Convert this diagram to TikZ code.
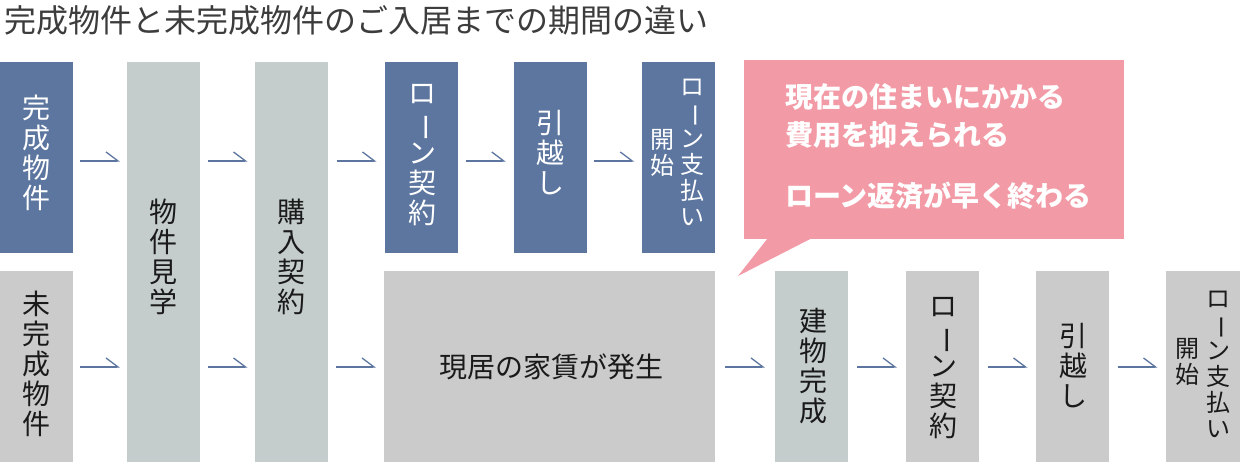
\documentclass[tikz,border=0pt]{standalone}
\usepackage{fontspec}
\usepackage{graphicx}
\newfontfamily\jp{Noto Sans CJK JP}
\usetikzlibrary{arrows.meta,calc}
\definecolor{cblue}{HTML}{5C76A0}
\definecolor{cgreen}{HTML}{C4CDCB}
\definecolor{cgray}{HTML}{CBCBCB}
\definecolor{cpink}{HTML}{F29BA6}
\definecolor{ctitle}{HTML}{3C3C3C}
\definecolor{cink}{HTML}{1A1A1A}
\newcommand{\vbar}{\rotatebox[origin=c]{-90}{ー}}
\newcommand{\flowarrow}[3]{\draw[flow] ($($(#1.east|-#3)!0.5!(#2.west|-#3)$)+(-20,0)$) -- ($($(#1.east|-#3)!0.5!(#2.west|-#3)$)+(20,0)$);}
\begin{document}
\begin{tikzpicture}[x=1pt,y=-1pt,
  boxbase/.style={rectangle, inner sep=0pt, draw=none, minimum width=73pt},
  tallbox/.style={boxbase, minimum height=400pt, fill=cgreen},
  rowbox/.style={boxbase, minimum height=191pt},
  vtext/.style={inner sep=0pt, align=center, font=\jp\fontsize{28}{30}\selectfont},
  vsmall/.style={inner sep=0pt, align=center, font=\jp\fontsize{24}{26}\selectfont},
  calltext/.style={inner sep=0pt, anchor=west, text=white, font=\jp\bfseries\fontsize{28}{28}\selectfont},
  flow/.style={draw=cblue, line width=1.3pt, -{Straight Barb[harpoon, length=12pt, width=18pt]}}]
\useasboundingbox (0,0) rectangle (1240,462);
\fill[white] (0,0) rectangle (1240,462);
\coordinate (yt) at (0,161);
\coordinate (yb) at (0,367);

% title
\node[inner sep=0pt, anchor=west, text=ctitle, font=\jp\fontsize{32}{32}\selectfont] (title) at (4,20) {完成物件と未完成物件のご入居までの期間の違い};

% top row
\node[rowbox, fill=cblue] (a1) at (36.5,157.5) {};
\node[vtext, text=white] (a1t) at (37,153) {完\\成\\物\\件};
\node[rowbox, fill=cblue] (a2) at (421.5,157.5) {};
\node[vtext, text=white] (a2t) at (422,155) {ロ\\\vbar\\ン\\契\\約};
\node[rowbox, fill=cblue] (a3) at (550,157.5) {};
\node[vtext, text=white] (a3t) at (550,152.5) {引\\越\\し};
\node[rowbox, fill=cblue] (a4) at (678.5,157.5) {};
\node[vsmall, text=white] (a4r) at (692,152) {ロ\\\vbar\\ン\\支\\払\\い};
\node[vsmall, text=white] (a4l) at (662,152.5) {開\\始};

% tall boxes
\node[tallbox] (k) at (163.5,262) {};
\node[vtext, text=cink] (kt) at (163.5,257) {物\\件\\見\\学};
\node[tallbox] (p) at (291.5,262) {};
\node[vtext, text=cink] (pt) at (291.5,257) {購\\入\\契\\約};

% bottom row
\node[rowbox, fill=cgray] (b1) at (36.5,366.5) {};
\node[vtext, text=cink] (b1t) at (37,363.5) {未\\完\\成\\物\\件};
\node[rowbox, fill=cgray, minimum width=331pt] (r) at (549.5,366.5) {};
\node[inner sep=0pt, text=cink, font=\jp\fontsize{28}{28}\selectfont] (rt) at (551,367) {現居の家賃が発生};
\node[rowbox, fill=cgreen] (c1) at (811.5,366.5) {};
\node[vtext, text=cink] (c1t) at (813,366.5) {建\\物\\完\\成};
\node[rowbox, fill=cgray] (c2) at (942.5,366.5) {};
\node[vtext, text=cink] (c2t) at (943,368) {ロ\\\vbar\\ン\\契\\約};
\node[rowbox, fill=cgray] (c3) at (1072.5,366.5) {};
\node[vtext, text=cink] (c3t) at (1073,366) {引\\越\\し};
\node[rowbox, fill=cgray, minimum width=74pt] (c4) at (1203,366.5) {};
\node[vsmall, text=cink] (c4r) at (1218,364) {ロ\\\vbar\\ン\\支\\払\\い};
\node[vsmall, text=cink] (c4l) at (1187,362) {開\\始};

% arrows
\flowarrow{a1}{k}{yt}
\flowarrow{k}{p}{yt}
\flowarrow{p}{a2}{yt}
\flowarrow{a2}{a3}{yt}
\flowarrow{a3}{a4}{yt}
\flowarrow{b1}{k}{yb}
\flowarrow{k}{p}{yb}
\flowarrow{p}{r}{yb}
\flowarrow{r}{c1}{yb}
\flowarrow{c1}{c2}{yb}
\flowarrow{c2}{c3}{yb}
\flowarrow{c3}{c4}{yb}

% callout
\node[rectangle, inner sep=0pt, fill=cpink, minimum width=380pt, minimum height=179pt] (call) at (934,149.5) {};
\coordinate (tip) at (738,276);
\fill[cpink] ($(call.south west)+(24,-1)$) -- (tip) -- ($(call.south west)+(68,-1)$) -- cycle;
\node[calltext] (l1) at (785,97) {現在の住まいにかかる};
\node[calltext] (l2) at (785,135) {費用を抑えられる};
\node[calltext] (l3) at (785,196) {ローン返済が早く終わる};
\end{tikzpicture}
\end{document}
